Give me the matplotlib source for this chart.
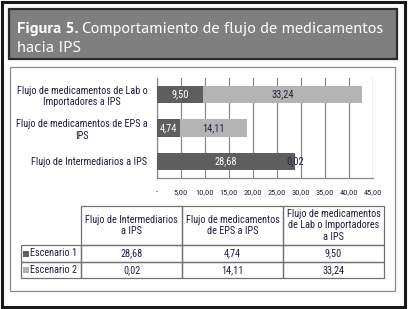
import matplotlib.pyplot as plt
from matplotlib.patches import Rectangle
from matplotlib.ticker import FuncFormatter
import numpy as np

plt.rcParams['font.family'] = ['Roboto Condensed', 'DejaVu Sans']

# data
categories = ['Flujo de Intermediarios a IPS',
              'Flujo de medicamentos de EPS a\nIPS',
              'Flujo de medicamentos de Lab o\nImportadores a IPS']
col_headers = ['Flujo de Intermediarios\na IPS',
               'Flujo de medicamentos\nde EPS a IPS',
               'Flujo de medicamentos\nde Lab o Importadores\na IPS']
series_names = ['Escenario 1', 'Escenario 2']
escenario1 = [28.68, 4.74, 9.50]
escenario2 = [0.02, 14.11, 33.24]
colors = ['#5e5e5e', '#b4b4b4']
txt = '#20203a'
title_font = ['PT Sans', 'DejaVu Sans']


def coma(v, pos=None):
    if v == 0:
        return '-'
    return ('%.2f' % v).replace('.', ',')


W, H = 408, 309
fig = plt.figure(figsize=(W / 100, H / 100), dpi=100)

# frame / header drawn in pixel space
bg = fig.add_axes([0, 0, 1, 1])
bg.set_xlim(0, W)
bg.set_ylim(H, 0)
bg.axis('off')
bg.add_patch(Rectangle((2, 2), 402.5, 304.5, fill=False, ec='#1a1a1a', lw=2.2))
bg.add_patch(Rectangle((9, 9), 387.5, 49.5, fc='#7f7f7f', ec='#2a2a2a', lw=1.6))
bg.add_patch(Rectangle((10, 67), 385, 224, fill=False, ec='#8a8a8a', lw=0.9))
t1 = bg.text(17, 33, 'Figura 5.', color='white', fontsize=11.8, fontweight='bold',
             family=title_font)
fig.canvas.draw()
bb = t1.get_window_extent()
x_next = bg.transData.inverted().transform((bb.x1, 0))[0] + 3.5
bg.text(x_next, 33, 'Comportamiento de flujo de medicamentos', color='white',
        fontsize=11.8, family=title_font)
bg.text(17, 52.5, 'hacia IPS', color='white', fontsize=11.8, family=title_font)

# bar chart
ax = fig.add_axes([157 / W, 1 - 178 / H, 216 / W, 100 / H])
y = np.arange(len(categories))
b1 = ax.barh(y, escenario1, 0.52, color=colors[0], zorder=3)
b2 = ax.barh(y, escenario2, 0.52, left=escenario1, color=colors[1], zorder=3)
ax.bar_label(b1, labels=[coma(v) for v in escenario1], label_type='center',
             color='white', fontsize=7.5)
ax.bar_label(b2, labels=[coma(v) for v in escenario2], label_type='center',
             color=txt, fontsize=7.5)
ax.set_xlim(0, 45)
ax.set_ylim(-0.5, 2.5)
ax.set_xticks(np.arange(0, 46, 5))
ax.xaxis.set_major_formatter(FuncFormatter(coma))
ax.set_yticks(y)
ax.set_yticklabels(categories, multialignment='center')
ax.tick_params(axis='x', length=0, pad=8, labelsize=6, labelcolor=txt)
ax.tick_params(axis='y', length=0, pad=7, labelsize=7.4, labelcolor=txt)
ax.grid(axis='x', color='#8a8a8a', lw=0.9, zorder=0)
for s in ['top', 'right']:
    ax.spines[s].set_visible(False)
for s in ['left', 'bottom']:
    ax.spines[s].set_color('#8a8a8a')
    ax.spines[s].set_linewidth(0.9)

# data table
xs = [21, 81, 182, 283, 384]
ys = [206, 245, 262, 278]
lc = '#707070'
for i, h in enumerate(col_headers):
    bg.add_patch(Rectangle((xs[i + 1], ys[0]), xs[i + 2] - xs[i + 1], ys[1] - ys[0],
                           fill=False, ec=lc, lw=0.9))
    bg.text((xs[i + 1] + xs[i + 2]) / 2, (ys[0] + ys[1]) / 2, h, ha='center',
            va='center', fontsize=7.4, color=txt, linespacing=1.15)
for r, (name, vals) in enumerate(zip(series_names, [escenario1, escenario2])):
    y0, y1 = ys[r + 1], ys[r + 2]
    for c in range(4):
        bg.add_patch(Rectangle((xs[c], y0), xs[c + 1] - xs[c], y1 - y0,
                               fill=False, ec=lc, lw=0.9))
    bg.add_patch(Rectangle((23, (y0 + y1) / 2 - 3), 6, 6, fc=colors[r], ec='none'))
    bg.text(30.5, (y0 + y1) / 2, name, va='center', fontsize=7.4, color=txt)
    for c, v in enumerate(vals):
        bg.text((xs[c + 1] + xs[c + 2]) / 2, (y0 + y1) / 2, coma(v), ha='center',
                va='center', fontsize=7.4, color=txt)

fig.savefig('out.png', dpi=100)
